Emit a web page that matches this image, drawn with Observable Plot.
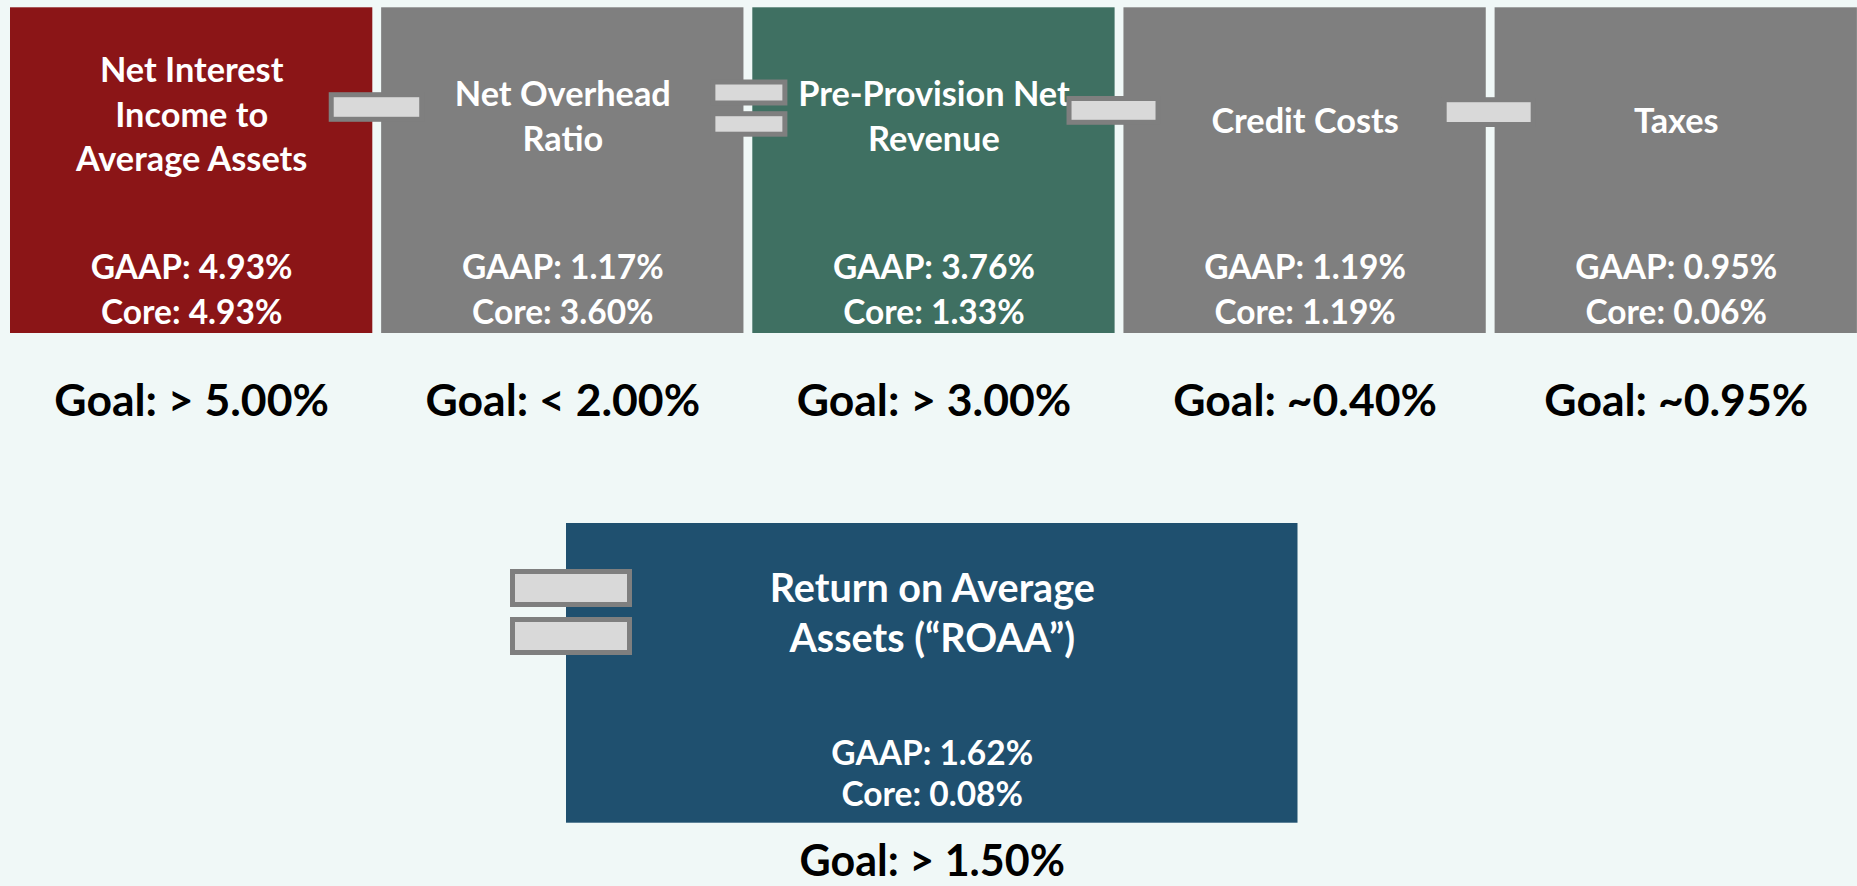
<!DOCTYPE html>
<html>
<head>
<meta charset="utf-8">
<script src="https://cdn.jsdelivr.net/npm/d3@7"></script>
<script src="https://cdn.jsdelivr.net/npm/@observablehq/plot@0.6"></script>
<style>
  html, body { margin: 0; padding: 0; background: #F0F8F7; }
  svg { display: block; }
</style>
</head>
<body>
<div id="chart"></div>
<script>
// ---------- data ----------
const categories = [
  "Net Interest\nIncome to\nAverage Assets",
  "Net Overhead\nRatio",
  "Pre-Provision Net\nRevenue",
  "Credit Costs",
  "Taxes"
];
const gaapValues = [4.93, 1.17, 3.76, 1.19, 0.95];
const coreValues = [4.93, 3.60, 1.33, 1.19, 0.06];
const goalLabels = ["> 5.00%", "< 2.00%", "> 3.00%", "~0.40%", "~0.95%"];
// connector between box i and i+1: "-" single bar, "=" double bar
const connectorTypes = ["-", "=", "-", "-"];

const resultTitle = "Return on Average\nAssets (\u201CROAA\u201D)";
const resultGaap = 1.62;
const resultCore = 0.08;
const resultGoal = "> 1.50%";

// ---------- styles / layout ----------
const W = 1857, H = 886;
const boxColors = ["#8B1517", "#7F7F7F", "#3F7062", "#7F7F7F", "#7F7F7F"];
const resultColor = "#1F506F";
const connFill = "#D9D9D9", connStroke = "#7F7F7F";
const font = "Lato, 'Open Sans', sans-serif";

const pitch = 371.15, boxW = 362.3, left0 = 10;
const topY1 = 7.3, topY2 = 333;
const resY1 = 523, resY2 = 822.7, resX1 = 566, resX2 = 1297.5;

const fmt = v => v.toFixed(2) + "%";
const titleY = {1: 117.6, 2: 113.5, 3: 111.6};

const boxes = categories.map((c, i) => ({
  title: c,
  x1: left0 + pitch * i,
  x2: left0 + pitch * i + boxW,
  y1: topY1, y2: topY2,
  fill: boxColors[i],
  ty: titleY[c.split("\n").length],
  values: `GAAP: ${fmt(gaapValues[i])}\nCore: ${fmt(coreValues[i])}`,
  goal: `Goal: ${goalLabels[i]}`
}));
boxes.forEach(b => b.cx = (b.x1 + b.x2) / 2);

const result = {
  title: resultTitle,
  x1: resX1, x2: resX2, y1: resY1, y2: resY2,
  cx: (resX1 + resX2) / 2,
  values: `GAAP: ${fmt(resultGaap)}\nCore: ${fmt(resultCore)}`,
  goal: `Goal: ${resultGoal}`
};

// connector geometry relative to the boundary between boxes
const connOffsets = [
  {l: -45.5, r: 45, ys: [[94.7, 119.3]]},
  {l: -35, r: 37, ys: [[82, 103], [113.7, 134.2]]},
  {l: -50, r: 39, ys: [[98.5, 122.3]]},
  {l: -46, r: 43, ys: [[99.7, 124.5]]}
];
const connectors = [];
connectorTypes.forEach((t, i) => {
  const boundary = (boxes[i].x2 + boxes[i + 1].x1) / 2;
  const o = connOffsets[i];
  const ys = t === "=" ? o.ys.slice(0, 2) : o.ys.slice(0, 1);
  ys.forEach(([y1, y2]) => connectors.push({x1: boundary + o.l, x2: boundary + o.r, y1, y2}));
});
// result connectors ("=" sign on its left edge)
[[571.5, 604.5], [619.5, 652.5]].forEach(([y1, y2]) =>
  connectors.push({x1: resX1 - 53.5, x2: resX1 + 63.5, y1, y2}));

const fsTitle = 34.3, fsValue = 33.5, fsGoal = 44.5;

const chart = Plot.plot({
  width: W, height: H,
  margin: 0,
  style: {background: "#F0F8F7", fontFamily: font},
  x: {domain: [0, W], range: [0, W], axis: null},
  y: {domain: [0, H], range: [0, H], axis: null},
  marks: [
    Plot.rect(boxes, {x1: "x1", x2: "x2", y1: "y1", y2: "y2", fill: "fill"}),
    Plot.rect([result], {x1: "x1", x2: "x2", y1: "y1", y2: "y2", fill: resultColor}),
    Plot.text(boxes, {x: "cx", y: "ty", text: "title", fill: "white", fontSize: fsTitle,
      fontWeight: "bold", lineHeight: 45 / fsTitle, fontFamily: font}),
    Plot.text(boxes, {x: "cx", y: 286.6, text: "values", fill: "white", fontSize: fsValue,
      fontWeight: "bold", lineHeight: 45 / fsValue, fontFamily: font}),
    Plot.text(boxes, {x: "cx", y: 401, text: "goal", fill: "black", fontSize: fsGoal,
      fontWeight: "bold", fontFamily: font}),
    Plot.text([result], {x: "cx", y: 610.5, text: "title", fill: "white", fontSize: 39.5,
      fontWeight: "bold", lineHeight: 50 / 39.5, fontFamily: font}),
    Plot.text([result], {x: "cx", y: 771.5, text: "values", fill: "white", fontSize: fsValue,
      fontWeight: "bold", lineHeight: 41.5 / fsValue, fontFamily: font}),
    Plot.text([result], {x: "cx", y: 862, text: "goal", fill: "black", fontSize: 43,
      fontWeight: "bold", fontFamily: font}),
    Plot.rect(connectors, {x1: "x1", x2: "x2", y1: "y1", y2: "y2", fill: connFill,
      stroke: connStroke, strokeWidth: 5})
  ]
});
document.getElementById("chart").appendChild(chart);
</script>
</body>
</html>
